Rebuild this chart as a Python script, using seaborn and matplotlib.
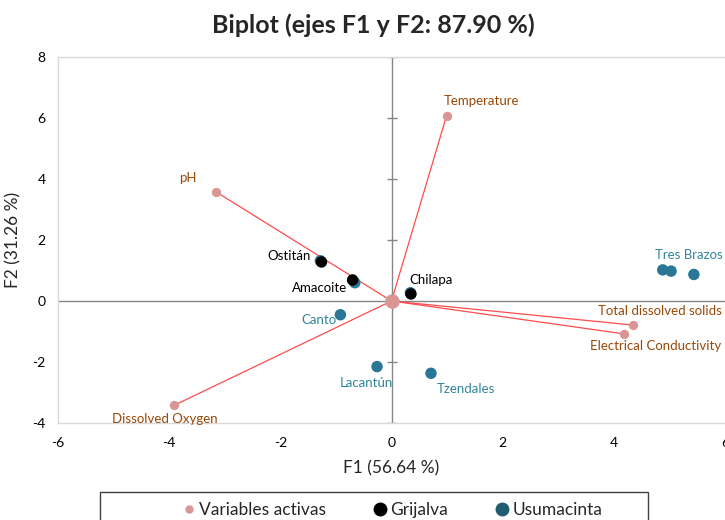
import numpy as np
import pandas as pd
import matplotlib
matplotlib.use("Agg")
import matplotlib.pyplot as plt
from matplotlib.lines import Line2D
from matplotlib.patches import Rectangle
import seaborn as sns

# ---- data ----
var_names = ["Temperature", "pH", "Dissolved Oxygen", "Total dissolved solids", "Electrical Conductivity"]
var_f1 = [0.99, -3.15, -3.91, 4.35, 4.19]
var_f2 = [6.07, 3.57, -3.42, -0.79, -1.08]

obs_names = ["", "", "", "Canto", "Lacantún", "Tzendales", "Tres Brazos", "", "",
             "Ostitán", "Amacoite", "Chilapa"]
obs_group = ["Usumacinta"] * 9 + ["Grijalva"] * 3
obs_f1 = [-1.28, -0.66, 0.34, -0.92, -0.26, 0.71, 4.88, 5.03, 5.44, -1.26, -0.70, 0.35]
obs_f2 = [1.32, 0.60, 0.27, -0.45, -2.15, -2.37, 1.02, 0.98, 0.87, 1.28, 0.69, 0.23]

title = "Biplot (ejes F1 y F2: 87.90 %)"
xlabel = "F1 (56.64 %)"
ylabel = "F2 (31.26 %)"
xticks = [-6, -4, -2, 0, 2, 4, 6]
yticks = [-4, -2, 0, 2, 4, 6, 8]
legend_labels = ["Variables activas", "Grijalva", "Usumacinta"]

# ---- styling ----
sns.set_theme(style="white")
plt.rcParams["font.family"] = ["Lato", "DejaVu Sans"]

C_VAR = "#D99694"
C_LINE = "#FF4B4B"
C_VARTXT = "#984807"
C_GRI = "#000000"
C_USU = "#2A7696"
C_USUTXT = "#31859C"

fig = plt.figure(figsize=(7.25, 5.2), dpi=100)
ax = fig.add_axes([58 / 725, 97 / 520, 667 / 725, 366 / 520])
ax.set_xlim(-6, 6)
ax.set_ylim(-4, 8)

# zero lines
ax.axhline(0, color="#868686", lw=1.0, zorder=1)
ax.axvline(0, color="#868686", lw=1.0, zorder=1)
ax.scatter(np.zeros(len(yticks)), yticks, marker="_", s=60, color="#868686",
           linewidths=1.0, zorder=1)

# variable vectors
for x, y in zip(var_f1, var_f2):
    ax.plot([0, x], [0, y], color=C_LINE, lw=0.9, zorder=2)
ax.scatter(np.zeros(1), np.zeros(1), s=110, color=C_VAR, zorder=4, linewidths=0)

vdf = pd.DataFrame({"F1": var_f1, "F2": var_f2, "name": var_names})
sns.scatterplot(data=vdf, x="F1", y="F2", color=C_VAR, s=45, linewidth=0,
                ax=ax, zorder=4, legend=False)

odf = pd.DataFrame({"F1": obs_f1, "F2": obs_f2, "group": obs_group, "name": obs_names})
sns.scatterplot(data=odf, x="F1", y="F2", hue="group",
                palette={"Usumacinta": C_USU, "Grijalva": C_GRI},
                s=68, linewidth=0, ax=ax, zorder=5, legend=False)

# labels
var_off = {
    "Temperature": (-2, 11, "left"),
    "pH": (-14, 10, "right"),
    "Dissolved Oxygen": (-7, -10, "center"),
    "Total dissolved solids": (64, 10, "right"),
    "Electrical Conductivity": (70, -9, "right"),
}
for x, y, n in zip(var_f1, var_f2, var_names):
    dx, dy, ha = var_off[n]
    ax.annotate(n, (x, y), xytext=(dx, dy), textcoords="offset points",
                ha=ha, va="center", fontsize=9.5, color=C_VARTXT, zorder=6)

obs_off = {
    "Ostitán": (-8, 4, "right"),
    "Amacoite": (-4, -6, "right"),
    "Chilapa": (-1, 10, "left"),
    "Canto": (-3, -4, "right"),
    "Lacantún": (-8, -12, "center"),
    "Tzendales": (4, -11, "left"),
    "Tres Brazos": (43, 11, "right"),
}
for x, y, n, g in zip(obs_f1, obs_f2, obs_names, obs_group):
    if not n:
        continue
    dx, dy, ha = obs_off[n]
    ax.annotate(n, (x, y), xytext=(dx, dy), textcoords="offset points",
                ha=ha, va="center", fontsize=9.5,
                color=C_GRI if g == "Grijalva" else C_USUTXT, zorder=6)

# axes styling
ax.set_xticks(xticks)
ax.set_yticks(yticks)
ax.set_xticklabels([str(t) for t in xticks])
ax.set_yticklabels([str(t) for t in yticks])
ax.tick_params(axis="both", length=0, labelsize=10, colors="#000000")
ax.tick_params(axis="y", pad=9)
ax.tick_params(axis="x", pad=10)
for side in ["left", "top", "bottom"]:
    ax.spines[side].set_color("#D9D9D9")
    ax.spines[side].set_linewidth(1.0)
ax.spines["right"].set_visible(False)
ax.set_xlabel(xlabel, fontsize=12.5, labelpad=8)
ax.set_ylabel(ylabel, fontsize=12.5, labelpad=8)

fig.text(373 / 725, 1 - 25 / 520, title, ha="center", va="center",
         fontsize=18, fontweight="bold")

# legend
fig.patches.append(Rectangle((100 / 725, -0.05), 548 / 725, 0.05 + (520 - 492) / 520,
                             transform=fig.transFigure, fill=False,
                             edgecolor="#404040", lw=1.0))
handles = [
    Line2D([], [], ls="", marker="o", markersize=5, color=C_VAR),
    Line2D([], [], ls="", marker="o", markersize=9, color=C_GRI),
    Line2D([], [], ls="", marker="o", markersize=9, color="#215D70"),
]
fig.legend(handles, legend_labels, loc="center", ncol=3,
           bbox_to_anchor=(391 / 725, 1 - 510 / 520), frameon=False,
           fontsize=12.5, handletextpad=0.1, columnspacing=2.6, handlelength=1.0)

fig.savefig("out.png", dpi=100)
